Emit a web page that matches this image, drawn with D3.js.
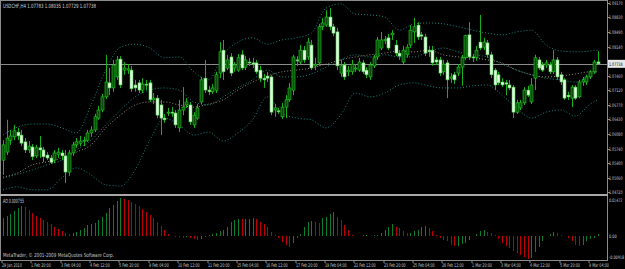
<!DOCTYPE html>
<html>
<head>
<meta charset="utf-8">
<script src="https://cdn.jsdelivr.net/npm/d3@7"></script>
<style>
  html, body { margin: 0; padding: 0; background: #000; overflow: hidden; }
</style>
</head>
<body>
<script>
// USDCHF H4 candles, 29 Jan 2010 .. 9 Mar 2010
const opens = [1.0547,1.0566,1.0594,1.0602,1.0613,1.0606,1.0590,1.0571,1.0578,1.0557,
  1.0576,1.0571,1.0559,1.0552,1.0547,1.0561,1.0564,1.0557,1.0519,1.0564,
  1.0583,1.0587,1.0592,1.0594,1.0611,1.0618,1.0646,1.0665,1.0696,1.0729,
  1.0717,1.0743,1.0785,1.0759,1.0759,1.0759,1.0724,1.0729,1.0712,1.0726,
  1.0729,1.0689,1.0693,1.0677,1.0646,1.0658,1.0660,1.0658,1.0623,1.0665,
  1.0677,1.0677,1.0630,1.0646,1.0684,1.0740,1.0712,1.0708,1.0712,1.0752,
  1.0806,1.0764,1.0790,1.0764,1.0759,1.0795,1.0766,1.0778,1.0776,1.0776,
  1.0759,1.0740,1.0745,1.0743,1.0665,1.0663,1.0649,1.0672,1.0689,1.0712,
  1.0783,1.0778,1.0806,1.0790,1.0818,1.0769,1.0776,1.0861,1.0865,1.0884,
  1.0861,1.0849,1.0752,1.0771,1.0755,1.0755,1.0762,1.0759,1.0776,1.0759,
  1.0743,1.0769,1.0790,1.0811,1.0828,1.0835,1.0842,1.0818,1.0799,1.0778,
  1.0795,1.0818,1.0849,1.0865,1.0842,1.0837,1.0806,1.0806,1.0783,1.0783,
  1.0755,1.0776,1.0740,1.0748,1.0752,1.0766,1.0788,1.0842,1.0790,1.0788,
  1.0825,1.0813,1.0823,1.0795,1.0759,1.0748,1.0731,1.0729,1.0724,1.0719,
  1.0660,1.0670,1.0682,1.0712,1.0684,1.0740,1.0783,1.0771,1.0771,1.0771,
  1.0755,1.0783,1.0748,1.0736,1.0700,1.0693,1.0719,1.0696,1.0731,1.0731,
  1.0743,1.0755,1.07783];
const highs = [1.0594,1.0642,1.0618,1.0630,1.0623,1.0618,1.0599,1.0592,1.0585,1.0583,
  1.0604,1.0578,1.0566,1.0559,1.0571,1.0576,1.0571,1.0571,1.0571,1.0590,
  1.0599,1.0604,1.0602,1.0618,1.0627,1.0656,1.0675,1.0703,1.0795,1.0764,
  1.0783,1.0792,1.0792,1.0778,1.0773,1.0769,1.0736,1.0736,1.0740,1.0736,
  1.0736,1.0705,1.0700,1.0689,1.0656,1.0670,1.0672,1.0665,1.0689,1.0719,
  1.0693,1.0684,1.0660,1.0679,1.0743,1.0783,1.0722,1.0726,1.0755,1.0825,
  1.0830,1.0795,1.0799,1.0778,1.0797,1.0806,1.0792,1.0788,1.0788,1.0783,
  1.0769,1.0750,1.0755,1.0748,1.0679,1.0670,1.0682,1.0700,1.0729,1.0795,
  1.0792,1.0818,1.0816,1.0835,1.0830,1.0788,1.0868,1.0882,1.0900,1.0905,
  1.0868,1.0858,1.0783,1.0778,1.0769,1.0783,1.0773,1.0788,1.0783,1.0766,
  1.0778,1.0795,1.0837,1.0849,1.0839,1.0844,1.0853,1.0830,1.0806,1.0816,
  1.0820,1.0865,1.0882,1.0872,1.0849,1.0844,1.0816,1.0816,1.0790,1.0790,
  1.0783,1.0783,1.0752,1.0755,1.0773,1.0795,1.0842,1.0872,1.0797,1.0816,
  1.0889,1.0835,1.0830,1.0802,1.0764,1.0755,1.0740,1.0736,1.0736,1.0724,
  1.0689,1.0689,1.0719,1.0722,1.0740,1.0795,1.0790,1.0778,1.0783,1.0778,
  1.0806,1.0790,1.0755,1.0740,1.0708,1.0724,1.0724,1.0736,1.0743,1.0748,
  1.0759,1.0783,1.08035];
const lows = [1.0512,1.0559,1.0583,1.0594,1.0594,1.0580,1.0564,1.0564,1.0547,1.0552,
  1.0552,1.0542,1.0547,1.0538,1.0540,1.0552,1.0547,1.0493,1.0510,1.0557,
  1.0576,1.0580,1.0580,1.0590,1.0602,1.0613,1.0642,1.0660,1.0691,1.0700,
  1.0708,1.0736,1.0717,1.0748,1.0750,1.0708,1.0708,1.0705,1.0705,1.0712,
  1.0684,1.0679,1.0646,1.0606,1.0635,1.0651,1.0649,1.0623,1.0613,1.0653,
  1.0670,1.0630,1.0623,1.0642,1.0679,1.0705,1.0700,1.0703,1.0705,1.0740,
  1.0736,1.0759,1.0745,1.0755,1.0755,1.0759,1.0759,1.0769,1.0764,1.0750,
  1.0731,1.0717,1.0731,1.0653,1.0649,1.0656,1.0644,1.0646,1.0684,1.0700,
  1.0769,1.0773,1.0776,1.0783,1.0759,1.0759,1.0769,1.0853,1.0861,1.0853,
  1.0839,1.0759,1.0743,1.0736,1.0745,1.0748,1.0755,1.0755,1.0750,1.0740,
  1.0736,1.0764,1.0783,1.0806,1.0820,1.0806,1.0830,1.0792,1.0783,1.0773,
  1.0788,1.0811,1.0823,1.0830,1.0830,1.0792,1.0790,1.0769,1.0771,1.0745,
  1.0748,1.0693,1.0729,1.0726,1.0745,1.0722,1.0783,1.0783,1.0778,1.0781,
  1.0806,1.0806,1.0788,1.0740,1.0712,1.0724,1.0719,1.0700,1.0712,1.0646,
  1.0656,1.0665,1.0677,1.0696,1.0679,1.0712,1.0759,1.0755,1.0764,1.0750,
  1.0750,1.0736,1.0724,1.0689,1.0689,1.0672,1.0689,1.0693,1.0722,1.0724,
  1.0738,1.0750,1.07729];
const closes = [1.0583,1.0599,1.0604,1.0616,1.0604,1.0587,1.0571,1.0580,1.0555,1.0576,
  1.0571,1.0555,1.0552,1.0542,1.0564,1.0566,1.0557,1.0519,1.0564,1.0583,
  1.0590,1.0592,1.0594,1.0611,1.0618,1.0649,1.0665,1.0696,1.0731,1.0717,
  1.0771,1.0783,1.0724,1.0764,1.0762,1.0715,1.0717,1.0712,1.0726,1.0724,
  1.0689,1.0693,1.0653,1.0646,1.0642,1.0660,1.0658,1.0630,1.0665,1.0672,
  1.0684,1.0637,1.0653,1.0670,1.0736,1.0712,1.0708,1.0717,1.0748,1.0802,
  1.0755,1.0783,1.0752,1.0771,1.0788,1.0764,1.0783,1.0776,1.0773,1.0755,
  1.0740,1.0736,1.0740,1.0660,1.0670,1.0662,1.0672,1.0689,1.0717,1.0790,
  1.0781,1.0806,1.0783,1.0825,1.0764,1.0773,1.0861,1.0870,1.0884,1.0861,
  1.0846,1.0769,1.0769,1.0743,1.0759,1.0773,1.0764,1.0778,1.0755,1.0748,
  1.0771,1.0788,1.0830,1.0830,1.0831,1.0811,1.0846,1.0799,1.0792,1.0806,
  1.0813,1.0853,1.0861,1.0837,1.0839,1.0799,1.0802,1.0776,1.0778,1.0752,
  1.0773,1.0736,1.0743,1.0736,1.0766,1.0788,1.0840,1.0790,1.0788,1.0806,
  1.0811,1.0825,1.0795,1.0748,1.0724,1.0729,1.0724,1.0726,1.0717,1.0660,
  1.0682,1.0682,1.0712,1.0700,1.0724,1.0788,1.0764,1.0759,1.0776,1.0755,
  1.0783,1.0743,1.0731,1.0693,1.0696,1.0719,1.0693,1.0731,1.0736,1.0743,
  1.0755,1.0778,1.07738];

// Awesome Oscillator, one value per bar
const aoValues = [0.0067,0.0075,0.0085,0.0097,0.0108,0.0116,0.0111,0.0101,0.0087,0.0075,
  0.0068,0.0061,0.0052,0.0044,0.0035,0.0027,0.0018,0.0010,0.0007,0.0009,
  0.0013,0.0021,0.0030,0.0040,0.0044,0.0050,0.0062,0.0071,0.0087,0.0108,
  0.0121,0.0136,0.01472,0.0143,0.0139,0.0133,0.0125,0.0116,0.0104,0.0092,
  0.0080,0.0067,0.0052,0.0039,0.0022,0.0008,-0.0001,-0.0004,-0.0006,-0.0008,
  -0.0006,-0.0010,-0.0013,-0.0017,-0.0014,-0.0006,0.0002,0.0005,0.0009,0.0016,
  0.0022,0.0035,0.0052,0.0061,0.0064,0.0063,0.0064,0.0065,0.0067,0.0063,
  0.0054,0.0045,0.0035,0.0015,0.0002,-0.0010,-0.0026,-0.0036,-0.0046,-0.0030,
  -0.0010,0.0005,0.0035,0.0054,0.0056,0.0052,0.0051,0.0067,0.0074,0.0083,
  0.0093,0.0074,0.0061,0.0041,0.0022,0.0003,-0.0003,-0.0002,0.0002,0.0003,
  -0.0002,0.0001,0.0003,0.0009,0.0022,0.0035,0.0044,0.0035,0.0028,0.0016,
  0.0009,0.0012,0.0018,0.0022,0.0035,0.0037,0.0028,0.0016,0.0002,-0.0010,
  -0.0017,-0.0023,-0.0036,-0.0042,-0.0039,-0.0034,-0.0029,-0.0017,-0.0003,0.0005,
  0.0016,0.0022,0.0013,0.0009,0.0001,-0.0013,-0.0030,-0.0042,-0.0049,-0.0059,
  -0.0068,-0.0075,-0.0084,-0.00918,-0.0086,-0.0064,-0.0043,-0.0023,-0.0003,0.0005,
  0.0013,0.0009,0.0003,-0.0002,-0.0010,-0.0023,-0.0036,-0.0042,-0.0036,-0.0023,
  -0.0014,-0.0008,0.000755];

// band lines read every 4 bars
const bandBars = [0,4,8,12,16,20,24,28,32,36,40,44,48,52,56,60,64,68,72,76,80,
  84,88,92,96,100,104,108,112,116,120,124,128,132,136,140,144,148,152,156,160,162];
const bbUpper = [1.0606,1.0625,1.0632,1.0632,1.0623,1.0611,1.0677,1.0759,1.0813,1.0820,1.0811,
  1.0788,1.0790,1.0755,1.0736,1.0795,1.0825,1.0835,1.0820,1.0830,1.0835,
  1.0846,1.0905,1.0915,1.0891,1.0889,1.0884,1.0853,1.0868,1.0870,1.0868,
  1.0861,1.0853,1.0846,1.0842,1.0849,1.0853,1.0818,1.0804,1.0802,1.0804,1.0806];
const bbMiddle = [1.0505,1.0514,1.0524,1.0536,1.0547,1.0571,1.0594,1.0630,1.0665,1.0696,1.0712,
  1.0717,1.0712,1.0684,1.0677,1.0696,1.0717,1.0736,1.0759,1.0743,1.0743,
  1.0750,1.0766,1.0783,1.0795,1.0790,1.0795,1.0790,1.0790,1.0802,1.0811,
  1.0802,1.0795,1.0790,1.0773,1.0759,1.0748,1.0740,1.0736,1.0731,1.0748,1.0755];
const bbLower = [1.0477,1.0484,1.0477,1.0477,1.0505,1.0529,1.0512,1.0489,1.0486,1.0524,1.0594,
  1.0646,1.0630,1.0606,1.0613,1.0592,1.0611,1.0642,1.0696,1.0658,1.0646,
  1.0642,1.0623,1.0653,1.0705,1.0696,1.0705,1.0724,1.0729,1.0722,1.0717,
  1.0717,1.0722,1.0724,1.0700,1.0670,1.0646,1.0660,1.0665,1.0651,1.0679,1.0689];
const maLine = [1.0507,1.0517,1.0536,1.0543,1.0552,1.0566,1.0583,1.0623,1.0653,1.0677,1.0684,
  1.0684,1.0677,1.0672,1.0679,1.0689,1.0712,1.0731,1.0745,1.0755,1.0759,
  1.0764,1.0773,1.0783,1.0790,1.0795,1.0799,1.0804,1.0802,1.0806,1.0795,
  1.0790,1.0788,1.0783,1.0776,1.0759,1.0748,1.0743,1.0745,1.0750,1.0755,1.0755];

const timeLabels = ['29 Jan 2010','1 Feb 20:00','3 Feb 04:00','4 Feb 12:00','5 Feb 20:00',
  '9 Feb 04:00','10 Feb 12:00','11 Feb 20:00','15 Feb 04:00','16 Feb 12:00','17 Feb 20:00',
  '19 Feb 04:00','22 Feb 12:00','23 Feb 20:00','25 Feb 04:00','26 Feb 12:00','1 Mar 20:00',
  '3 Mar 04:00','4 Mar 12:00','5 Mar 20:00','9 Mar 04:00'];
const priceTicks = ['1.09170','1.08830','1.08490','1.08140','1.07800','1.07460','1.07120',
  '1.06770','1.06430','1.06080','1.05740','1.05400','1.05060','1.04720'];
const aoTicks = ['0.01472','0.00','-0.00918'];

const symbolTitle = 'USDCHF,H4  1.07783 1.08035 1.07729 1.07738';
const aoTitle = 'AO 0.000755';
const copyright = 'MetaTrader, \u00a9 2001-2009 MetaQuotes Software Corp.';

const W = 625, H = 269;
const font = '"Liberation Sans Narrow", "DejaVu Sans Condensed", "DejaVu Sans", sans-serif';
const n = closes.length;

const svg = d3.select('body').append('svg')
  .attr('width', W).attr('height', H)
  .style('display', 'block');
svg.append('rect').attr('width', W).attr('height', H).attr('fill', '#000');

const x = d3.scaleLinear().domain([0, n - 1]).range([3, 597.5]);
const y = d3.scaleLinear().domain([1.04720, 1.09170]).range([192, 3]);
const yAo = d3.scaleLinear().domain([-0.00918, 0.01472]).range([259, 198]);
const px = i => Math.round(x(i)) + 0.5;

function txt(g, s, x0, y0, len, size, fill) {
  return g.append('text')
    .attr('x', x0).attr('y', y0)
    .attr('font-family', font).attr('font-size', size)
    .attr('fill', fill)
    .attr('textLength', len).attr('lengthAdjust', 'spacingAndGlyphs')
    .text(s);
}

svg.append('clipPath').attr('id', 'mainClip')
  .append('rect').attr('x', 1).attr('y', 1).attr('width', 606).attr('height', 193);
svg.append('clipPath').attr('id', 'aoClip')
  .append('rect').attr('x', 1).attr('y', 196).attr('width', 606).attr('height', 64);

// frame
const frame = svg.append('g').attr('stroke', '#8c8c8c').attr('shape-rendering', 'crispEdges');
frame.append('line').attr('x1', 0).attr('x2', 608).attr('y1', 0.5).attr('y2', 0.5);
frame.append('line').attr('x1', 0.5).attr('x2', 0.5).attr('y1', 0).attr('y2', 261);
frame.append('line').attr('x1', 607.5).attr('x2', 607.5).attr('y1', 0).attr('y2', 261);
frame.append('line').attr('x1', 0).attr('x2', 608).attr('y1', 260.5).attr('y2', 260.5);
svg.append('rect').attr('x', 0).attr('y', 194).attr('width', 608).attr('height', 2).attr('fill', '#a8a8a8');

// bid line
const last = closes[n - 1];
svg.append('line')
  .attr('x1', 1).attr('x2', 607)
  .attr('y1', Math.round(y(last)) + 0.5).attr('y2', Math.round(y(last)) + 0.5)
  .attr('stroke', '#8c8c8c').attr('shape-rendering', 'crispEdges');

// bands and moving average
const main = svg.append('g').attr('clip-path', 'url(#mainClip)');
const bandLine = vals => d3.line()
  .x((d, k) => x(bandBars[k]))
  .y(d => y(d))
  .curve(d3.curveMonotoneX)(vals);
[[bbUpper, '#138a7c'], [bbLower, '#138a7c'], [bbMiddle, '#138a7c'], [maLine, '#9a8a78']]
  .forEach(([vals, col]) => {
    main.append('path')
      .attr('d', bandLine(vals))
      .attr('fill', 'none')
      .attr('stroke', col)
      .attr('stroke-width', 1)
      .attr('stroke-dasharray', '1 2');
  });

// candles
const idx = d3.range(n);
main.append('g').selectAll('line')
  .data(idx).join('line')
  .attr('x1', px).attr('x2', px)
  .attr('y1', i => y(highs[i])).attr('y2', i => y(lows[i]))
  .attr('stroke', '#19b019').attr('stroke-width', 1);

main.append('g').selectAll('rect')
  .data(idx).join('rect')
  .attr('x', i => Math.round(x(i)) - 1)
  .attr('width', 3)
  .attr('y', i => y(Math.max(opens[i], closes[i])))
  .attr('height', i => Math.max(1, Math.abs(y(opens[i]) - y(closes[i]))))
  .attr('fill', i => closes[i] >= opens[i] ? '#0b4a0b' : '#e4ffe4')
  .attr('stroke', i => closes[i] >= opens[i] ? '#22d022' : '#46c846')
  .attr('stroke-width', 0.6);

// AO histogram
const ao = svg.append('g').attr('clip-path', 'url(#aoClip)');
ao.selectAll('line')
  .data(idx).join('line')
  .attr('x1', px).attr('x2', px)
  .attr('y1', yAo(0)).attr('y2', i => yAo(aoValues[i]))
  .attr('stroke', i => (i === 0 || aoValues[i] > aoValues[i - 1]) ? '#0d7f2a' : '#c00000')
  .attr('stroke-width', 1)
  .attr('shape-rendering', 'crispEdges');

// price axis (the level under the current price marker stays hidden)
const axisG = svg.append('g');
const yl = y(last);
priceTicks.forEach(t => {
  const yy = y(+t);
  axisG.append('line').attr('x1', 607).attr('x2', 610)
    .attr('y1', Math.round(yy) + 0.5).attr('y2', Math.round(yy) + 0.5)
    .attr('stroke', '#8c8c8c');
  if (Math.abs(yy - yl) > 7) txt(axisG, t, 609, yy + 2, 13.5, 4.9, '#c8c8c8');
});
// current price marker
axisG.append('rect').attr('x', 608).attr('y', yl - 4).attr('width', 17).attr('height', 8).attr('fill', '#e8e8e8');
txt(axisG, d3.format('.5f')(last), 609, yl + 2, 13.5, 4.9, '#000');

// AO axis
aoTicks.forEach(t => {
  const yy = Math.min(257, Math.max(199.5, yAo(+t)));
  txt(axisG, t, 609, yy + 2, Math.min(15, t.length * 1.9), 4.6, '#c8c8c8');
});

// time axis
timeLabels.forEach((t, k) => {
  const xx = Math.round(x(k * 8)) - 1.5;
  axisG.append('line').attr('x1', xx + 0.5).attr('x2', xx + 0.5)
    .attr('y1', 261).attr('y2', 263).attr('stroke', '#8c8c8c');
  txt(axisG, t, xx + 0.5, 267, t.length * 1.8, 5.2, '#c8c8c8');
});

// titles
txt(svg, symbolTitle, 3, 8, 93, 5.8, '#d0d0d0');
txt(svg, aoTitle, 3, 203, 21, 5.8, '#d0d0d0');
txt(svg, copyright, 3, 257, 111, 5.6, '#c8c8c8');
</script>
</body>
</html>
